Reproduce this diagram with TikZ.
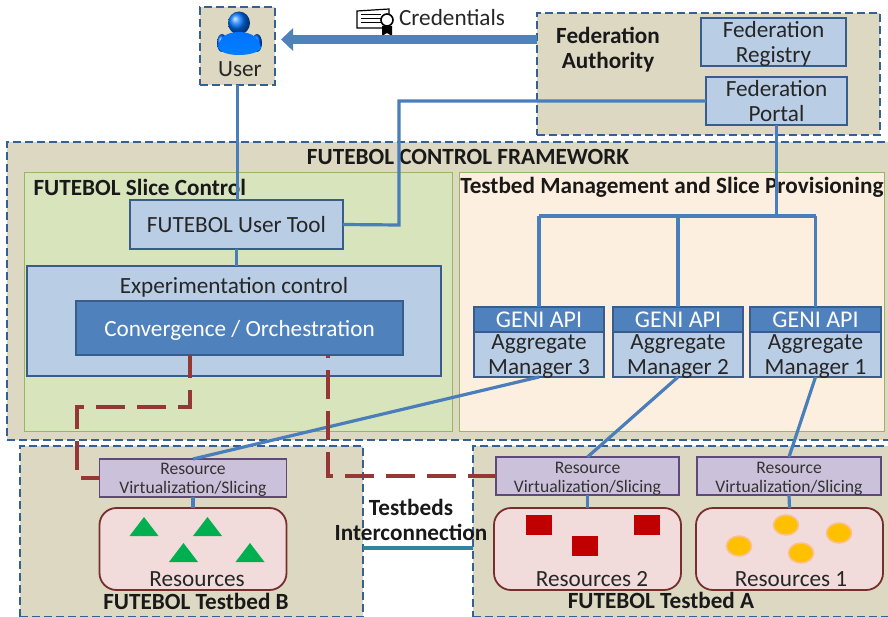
\documentclass[tikz,border=0pt]{standalone}
\usepackage{fontspec}
\setmainfont{Carlito}
\usetikzlibrary{positioning}
\usetikzlibrary{arrows.meta}
\definecolor{tanfill}{HTML}{DDD8C2}
\definecolor{dashblue}{HTML}{376092}
\definecolor{linkblue}{HTML}{4A7EBB}
\definecolor{boxblue}{HTML}{B9CDE5}
\definecolor{deepblue}{HTML}{4F81BD}
\definecolor{boxedge}{HTML}{385D8A}
\definecolor{greenfill}{HTML}{D7E4BC}
\definecolor{greenedge}{HTML}{98B561}
\definecolor{creamfill}{HTML}{FDEFDF}
\definecolor{purplefill}{HTML}{CCC1DA}
\definecolor{purpleedge}{HTML}{5F497A}
\definecolor{pinkfill}{HTML}{F2DCDB}
\definecolor{pinkedge}{HTML}{772F2D}
\definecolor{dashred}{HTML}{953735}
\definecolor{teallink}{HTML}{31859C}
\definecolor{trigreen}{HTML}{00B050}
\definecolor{squarered}{HTML}{C00000}
\definecolor{dotorange}{HTML}{FFC000}
\definecolor{dothalo}{HTML}{FAC090}
\newcommand{\lowblock}{\rule{0pt}{21pt}}
\tikzset{
	sized/.style n args={2}{minimum width=#1pt,minimum height=#2pt,inner sep=0pt,outer sep=0pt},
	zonebox/.style={rectangle,fill=tanfill,draw=dashblue,line width=2.2pt,dash pattern=on 8pt off 4pt},
	block/.style={rectangle,fill=boxblue,draw=boxedge,line width=1.6pt,align=center,text=black!85,
		font=\fontsize{23.2}{25}\selectfont},
	darkblock/.style={block,fill=deepblue,text=white},
	areabox/.style={rectangle,line width=1pt},
	virtbox/.style={rectangle,fill=purplefill,draw=purpleedge,line width=1.8pt},
	virttext/.style={align=center,text=black!80,inner sep=0pt,font=\fontsize{17.6}{19}\selectfont},
	resbox/.style={rectangle,rounded corners=17pt,fill=pinkfill,draw=pinkedge,line width=1.8pt},
	reslabel/.style={align=center,inner sep=0pt,font=\fontsize{23.2}{25}\selectfont,text=black!85},
	heading/.style={align=center,font=\fontsize{23.2}{25}\selectfont\bfseries,text=black!90},
	link/.style={draw=linkblue,line width=3.2pt},
	redlink/.style={draw=dashred,line width=3.4pt,dash pattern=on 29pt off 12pt}
}
\begin{document}
\begin{tikzpicture}[x=1pt,y=-1pt]
	\useasboundingbox (0,0) rectangle (888,617);
	\fill[white] (0,0) rectangle (888,617);
	
	\draw node[zonebox, sized={75}{78}] (UserBox) at (237.5,46) {};
	\draw node[zonebox, sized={343}{122}] (Authority) at (708.5,74) {};
	\draw node[zonebox, sized={890}{298}, anchor=north west] (Framework) at (7,142) {};
	\draw node[zonebox, sized={343}{171}, anchor=north west] (TestbedB) at (20,446) {};
	\draw node[zonebox, sized={420}{171}, anchor=north west] (TestbedA) at (473,446) {};
	
	\draw node[areabox, sized={428}{258}, anchor=north west, fill=greenfill, draw=greenedge] (SliceArea) at (24,173) {};
	\draw node[areabox, sized={425}{258}, anchor=north west, fill=creamfill, draw=greenedge] (MgmtArea) at (459,173) {};
	
	\shade[ball color=cyan!45!blue] (239,23) ellipse (11 and 11.5);
	\shade[ball color=blue!60!cyan] (222,43) ellipse (5 and 9);
	\shade[ball color=blue!60!cyan] (257,43) ellipse (5 and 9);
	\shade[top color=blue!55!cyan, bottom color=cyan!50!blue]
		(218,48) .. controls (219,38) and (226,32) .. (239,32) .. controls (252,32) and (259,38) .. (261,48)
		.. controls (258,53) and (248,55) .. (239,55) .. controls (230,55) and (221,53) .. (218,48) -- cycle;
	\draw node[reslabel] (UserText) at (240,69) {User};
	
	\draw[black, line width=1.2pt, fill=white] (357,11) -- (389,9) -- (389,28) -- (357,28) -- cycle;
	\foreach \ypos in {15,19,23} {
		\draw[black, line width=1pt] (361,\ypos) -- (381,\ypos);
	}
	\fill[black] (382,26) -- (392,26) -- (392,36) -- (387,33) -- (382,36) -- cycle;
	\draw[black, line width=1.6pt, fill=white] (387,20) circle (6);
	
	\draw node[reslabel] (Credentials) at (452,18) {Credentials};
	\draw node[heading] (AuthorityText) at (608,50) {Federation\\ Authority};
	\draw node[block, sized={145}{48}] (Registry) at (773.5,42) {};
	\draw node[reslabel] (RegistryText) at (773.5,44) {Federation\\ Registry};
	\draw node[block, sized={141}{48}] (Portal) at (776.5,101) {};
	\draw node[reslabel] (PortalText) at (776.5,101) {Federation\\ Portal};
	
	\draw node[heading] (FrameworkText) at (468,157) {FUTEBOL CONTROL FRAMEWORK};
	\draw node[heading, anchor=west] (SliceText) at (30,187) {FUTEBOL Slice Control};
	\draw node[heading, anchor=east] (MgmtText) at (887,187) {Testbed Management and Slice Provisioning};
	
	\draw node[block, sized={213}{49}] (UserTool) at (236.5,224.5) {FUTEBOL User Tool};
	\draw node[block, sized={414}{110}] (Experiment) at (234,321) {};
	\draw node[reslabel] (ExperimentText) at (234,287) {Experimentation control};
	\draw node[darkblock, sized={327}{54}] (Convergence) at (239.5,328) {\lowblock Convergence / Orchestration};
	
	\foreach \name/\xpos/\wid/\num in {Three/539/130/3,Two/678/130/2,One/815.5/131/1} {
		\draw node[darkblock, sized={\wid}{25}, anchor=north, font=\fontsize{24}{25}\selectfont] (Api\name) at (\xpos,307) {GENI API};
		\draw node[block, sized={\wid}{45}, anchor=north] (Manager\name) at (\xpos,332) {};
		\draw node[reslabel] (Manager\name Text) at (\xpos,356.5) {Aggregate\\ Manager \num};
	}
	
	\draw node[virtbox, sized={187}{38}] (VirtB) at (193,478) {};
	\draw node[virttext] (VirtBText) at (193,480) {Resource\\ Virtualization/Slicing};
	\draw node[virtbox, sized={183}{38}] (VirtTwo) at (587.5,476) {};
	\draw node[virttext] (VirtTwoText) at (587.5,479) {Resource\\ Virtualization/Slicing};
	\draw node[virtbox, sized={184}{38}] (VirtOne) at (789,476) {};
	\draw node[virttext] (VirtOneText) at (789,479) {Resource\\ Virtualization/Slicing};
	
	\draw node[resbox, sized={187}{82}] (ResB) at (193,549) {};
	\draw node[resbox, sized={187}{82}] (ResTwo) at (587.5,549) {};
	\draw node[resbox, sized={187}{82}] (ResOne) at (789.5,549) {};
	
	\foreach \xpos/\ypos in {144/517,207.5/517,183.5/543,250/543} {
		\fill[trigreen] (\xpos,\ypos) -- ++(14.5,19) -- ++(-29,0) -- cycle;
	}
	\foreach \xpos/\ypos in {526/515,634/515,572/536} {
		\fill[squarered] (\xpos,\ypos) rectangle ++(25.5,20);
	}
	\foreach \xpos/\ypos in {786/525,839/533,739/546,801/553} {
		\draw[fill=dotorange, draw=dothalo, line width=1.6pt] (\xpos,\ypos) ellipse (12.5 and 10);
	}
	
	\draw node[reslabel] (ResBText) at (197,579) {Resources};
	\draw node[reslabel] (ResTwoText) at (592,579) {Resources 2};
	\draw node[reslabel] (ResOneText) at (791,579) {Resources 1};
	\draw node[heading] (TestbedBText) at (196,601) {FUTEBOL Testbed B};
	\draw node[heading] (TestbedAText) at (661,600) {FUTEBOL Testbed A};
	
	\draw [teallink, line width=3.4pt] (TestbedB.east |- 0,548) -- (TestbedA.west |- 0,548);
	\draw node[heading] (InterText) at (411,520) {Testbeds\\ Interconnection};
	
	\coordinate (ArrowStart) at (Authority.west |- 0,39.5);
	\coordinate (ArrowEnd) at (UserBox.east |- 0,39.5);
	\draw [draw=deepblue, line width=9pt, shorten >=6pt, -{Triangle[length=12pt,width=22pt]}] (ArrowStart) -- (ArrowEnd);
	
	\coordinate (TreeTop) at (Portal.south |- 0,216);
	\coordinate (TreeLeft) at (ApiThree.north |- 0,216);
	\coordinate (TreeMid) at (ApiTwo.north |- 0,216);
	\coordinate (TreeRight) at (ApiOne.north |- 0,216);
	\coordinate (ToolBend) at (399,225);
	
	\draw [link] (UserBox.south) -- (UserBox.south |- UserTool.north);
	\draw [link] (UserTool.south) -- (UserTool.south |- Experiment.north);
	\draw [link] (UserTool.east) -- (ToolBend) -- (ToolBend |- Portal.west) -- (Portal.west);
	\draw [link] (Portal.south) -- (TreeTop);
	\draw [link] (TreeLeft) -- (TreeRight);
	\draw [link] (TreeLeft) -- (ApiThree.north);
	\draw [link] (TreeMid) -- (ApiTwo.north);
	\draw [link] (TreeRight) -- (ApiOne.north);
	\draw [link] (ManagerThree.south) -- (VirtB.north);
	\draw [link] (ManagerTwo.south) -- (VirtTwo.north);
	\draw [link] (ManagerOne.south) -- (VirtOne.north);
	\draw [link] (VirtB.south) -- (ResB.north);
	\draw [link] (VirtTwo.south) -- (ResTwo.north);
	\draw [link] (VirtOne.south) -- (ResOne.north);
	
	\coordinate (RedStartB) at (190,355);
	\coordinate (RedStartA) at (328,355);
	\draw [redlink, dash phase=6pt] (RedStartB) -- (190,407) -- (77,407) -- (77,478) -- (VirtB.west);
	\draw [redlink, dash phase=26pt] (RedStartA) -- (328,476) -- (VirtTwo.west);
\end{tikzpicture}
\end{document}
